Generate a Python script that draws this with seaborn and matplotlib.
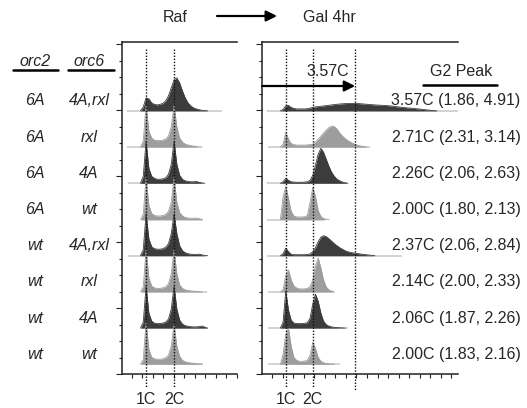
import numpy as np
import matplotlib
matplotlib.use('Agg')
import matplotlib.pyplot as plt
import seaborn as sns
from matplotlib.ticker import MultipleLocator
from matplotlib.lines import Line2D
from matplotlib.patches import FancyArrowPatch

sns.set_theme(style='ticks')
plt.rcParams['font.family'] = ['Liberation Sans', 'DejaVu Sans']

# strains and G2 peak summary
orc2 = ['6A', '6A', '6A', '6A', 'wt', 'wt', 'wt', 'wt']
orc6 = ['4A,rxl', 'rxl', '4A', 'wt', '4A,rxl', 'rxl', '4A', 'wt']
g2_peak = ['3.57C (1.86, 4.91)', '2.71C (2.31, 3.14)', '2.26C (2.06, 2.63)',
           '2.00C (1.80, 2.13)', '2.37C (2.06, 2.84)', '2.14C (2.00, 2.33)',
           '2.06C (1.87, 2.26)', '2.00C (1.83, 2.16)']
shade = ['dark', 'light', 'dark', 'light', 'dark', 'light', 'dark', 'light']

# DNA content bins (C), 0.1C wide
raf_bins = np.round(np.arange(0.8, 3.25, 0.1), 1)
gal_bins = np.round(np.arange(0.8, 6.65, 0.1), 1)

# Raf (before release) histograms, counts from 0.8C upward
raf_counts = [
    [0, 4, 13, 12, 8, 6.5, 6, 6.5, 7.5, 10, 15, 23, 31, 33, 28, 20, 13, 8, 5, 3, 2, 1.2, 0.6, 0.3, 0],
    [0, 6, 42, 16, 9, 7, 6.5, 6.5, 7, 8, 11, 20, 42, 20, 9, 5, 3, 2, 1.5, 1, 0.6, 0.3, 0],
    [0, 7, 42, 15, 7, 5, 4, 4, 4.5, 5.5, 9, 19, 42, 19, 8, 4, 2.5, 1.8, 1.5, 1.5, 1.8, 1, 0.3, 0],
    [0, 5, 42, 14, 6, 4, 3.5, 3.5, 4, 5, 8, 17, 42, 17, 7, 3.5, 2, 1.5, 1.2, 1.2, 1.5, 0.8, 0],
    [0, 6, 42, 17, 9, 7, 6.5, 6.5, 7, 8.5, 12, 22, 42, 22, 10, 5, 3, 2, 1.5, 1.3, 1.3, 1.5, 0.8, 0.3, 0],
    [0, 5, 42, 14, 6, 4, 3.5, 3.5, 4, 5, 8, 18, 42, 18, 7, 3.5, 2, 1.5, 1, 0.8, 0.5, 0.3, 0],
    [0, 6, 42, 15, 7, 5, 4.5, 4.5, 5, 6, 9, 19, 42, 19, 8, 4, 2.5, 1.8, 1.4, 1.2, 1.2, 1.5, 2, 1, 0],
    [0, 5, 42, 15, 7, 5.5, 5, 5, 5.5, 6.5, 9, 18, 40, 18, 8, 4, 2.5, 1.8, 1.3, 1, 0.6, 0.3, 0],
]
raf_base_start = [0.32, 0.32, 0.36, 0.86, 0.36, 0.86, 0.86, 0.86]
raf_base_end = [3.71, 2.82, 3.04, 3.04, 3.11, 3.18, 3.18, 3.04]

# Gal 4hr histograms, counts from 0.8C upward
gal_counts = [
    [0, 1.5, 5, 5.5, 3.5, 2.5, 2, 2, 2, 2, 2.2, 2.8, 3.6, 4, 4.3, 4.6, 5, 5.3, 5.6, 6,
     6.3, 6.6, 6.9, 7.1, 7.3, 7.4, 7.5, 7.5, 7.4, 7.3, 7.1, 6.9, 6.6, 6.4, 6.2, 6, 5.8,
     5.7, 5.5, 5.4, 5.2, 4.9, 4.6, 4.2, 3.9, 3.6, 3.3, 3.0, 2.8, 2.6, 2.3, 2.0, 1.7, 1.4,
     1.1, 0.8, 0.5, 0.3, 0],
    [0, 3, 14.5, 8, 3.5, 2.5, 2, 2, 2, 2, 2.2, 2.5, 3, 5, 8, 11, 14, 17, 19.5, 21,
     20.5, 18, 14, 11, 8.5, 6.5, 5, 3.5, 2.5, 1.5, 1, 0.5, 0],
    [0, 1.5, 5, 3, 1.5, 1.2, 1, 1, 1, 1.2, 1.5, 3, 8, 18, 29, 35, 31, 24, 17, 11, 7, 4,
     2.5, 1.2, 0.5, 0],
    [0, 22, 33, 21, 8, 3.5, 2.5, 2.5, 2.5, 2.8, 4, 17, 32, 23, 9, 3, 1, 0.3, 0],
    [0, 2, 7.5, 4, 1.5, 1, 1, 1, 1, 1, 1.2, 1.8, 4, 8, 14, 18.5, 20, 19, 17, 14.5, 12,
     10, 8, 6.5, 5, 4, 3.3, 2.8, 2.4, 2, 1.6, 1.2, 0.9, 0.6, 0.3, 0],
    [0, 2, 16, 22, 12, 6, 4, 3, 3, 3, 3.5, 5, 12, 26, 34, 24, 12, 5, 2, 0.8, 0],
    [0, 6, 37, 18, 8, 5, 4.5, 4.5, 4.5, 4.8, 5.5, 10, 24, 34, 27, 15, 7, 3.5, 2, 1.2,
     0.8, 0.5, 0.3, 0.2, 0],
    [0, 10, 30, 36, 18, 7, 4, 3, 3, 3.2, 4, 9, 22, 16, 7, 3, 1.5, 0.8, 0.5, 0.3, 0],
]
gal_base_start = [0.31, 0.34, 0.31, 0.31, 0.31, 0.34, 0.34, 0.34]
gal_base_end = [7.38, 4.12, 3.27, 2.46, 5.31, 2.75, 3.31, 3.0]

DARK, LIGHT = '#3c3c3c', '#9d9d9d'
ROW_GAP = 36.2
FS = 11.5
W, H = 527, 408
ROW0_PX = 364.3  # pixel row of the last baseline


def fx(px):
    return px / W


def fy(py):
    return 1 - py / H


fig = plt.figure(figsize=(W / 100, H / 100), dpi=100)
ax_raf = fig.add_axes([fx(122), fy(374.3), fx(237) - fx(122), fy(42) - fy(374.3)])
ax_gal = fig.add_axes([fx(262), fy(374.3), fx(458) - fx(262), fy(42) - fy(374.3)])


def draw_panel(ax, bins, counts, b_start, b_end):
    for i, c in enumerate(counts):
        y0 = (7 - i) * ROW_GAP
        col = DARK if shade[i] == 'dark' else LIGHT
        x = bins[:len(c)]
        h = np.array(c, dtype=float)
        ax.plot([b_start[i], b_end[i]], [y0, y0], color='#c8c8c8', lw=1.1,
                zorder=3 * i + 1, solid_capstyle='butt')
        ax.fill_between(x, y0, y0 + h, color=col, lw=0, zorder=3 * i + 2)
        sns.lineplot(x=x, y=y0 + h, color=col, lw=0.6, ax=ax, zorder=3 * i + 3)


draw_panel(ax_raf, raf_bins, raf_counts, raf_base_start, raf_base_end)
draw_panel(ax_gal, gal_bins, gal_counts, gal_base_start, gal_base_end)

ax_raf.set_xlim(0.14, 4.25)
ax_gal.set_xlim(0.12, 7.38)
ax_raf.xaxis.set_major_locator(MultipleLocator(0.375, offset=0.49))
ax_gal.xaxis.set_major_locator(MultipleLocator(0.39, offset=0.11))

for ax, marks, bot in ((ax_raf, [1, 2], [-23.7, -23.7]),
                       (ax_gal, [1, 2, 3.57], [-23.7, -23.7, -26])):
    ax.set_ylim(-10, 322.3)
    ax.yaxis.set_major_locator(MultipleLocator(66, offset=-10))
    ax.yaxis.set_minor_locator(MultipleLocator(16.5, offset=-10))
    ax.tick_params(axis='y', which='major', direction='out', length=4, width=0.8,
                   left=True, labelleft=False, color='#222222')
    ax.tick_params(axis='y', which='minor', direction='out', length=2.5, width=0.8,
                   left=True, color='#222222')
    ax.tick_params(axis='x', which='major', direction='out', length=3, width=0.8,
                   bottom=True, labelbottom=False, color='#222222')
    ax.set_xlabel('')
    ax.set_ylabel('')
    ax.patch.set_alpha(0)
    for s in ('left', 'bottom', 'top'):
        ax.spines[s].set_color('#222222')
        ax.spines[s].set_linewidth(1.1)
    ax.spines['right'].set_visible(False)
    for m, yb in zip(marks, bot):
        ax.plot([m, m], [315.8, yb], ls=(0, (1, 1.2)), color='#111111', lw=1.0,
                clip_on=False, zorder=40)
    for m, lab in zip([1, 2], ['1C', '2C']):
        ax.text(m, -34.7, lab, ha='center', va='center', fontsize=FS, clip_on=False)

# 3.57C arrow in the Gal panel
ax_gal.annotate('', xy=(3.57, ROW0_PX - 86), xytext=(0.12, ROW0_PX - 86),
                arrowprops=dict(arrowstyle='-|>', lw=1.6, color='black',
                                mutation_scale=16, shrinkA=0, shrinkB=0),
                annotation_clip=False, zorder=45)
ax_gal.text(2.57, ROW0_PX - 71.7, '3.57C', ha='center', va='center', fontsize=FS)

# header: Raf -> Gal 4hr
fig.text(fx(175), fy(17), 'Raf', ha='center', va='center', fontsize=FS)
fig.text(fx(329), fy(17), 'Gal 4hr', ha='center', va='center', fontsize=FS)
fig.add_artist(FancyArrowPatch(
    (fx(217), fy(16)), (fx(277), fy(16)), transform=fig.transFigure,
    arrowstyle='-|>', mutation_scale=16, lw=1.6, color='black',
    shrinkA=0, shrinkB=0))

# strain columns
fig.text(fx(35), fy(62), 'orc2', ha='center', va='center', fontsize=FS, style='italic')
fig.text(fx(89), fy(62), 'orc6', ha='center', va='center', fontsize=FS, style='italic')
fig.add_artist(Line2D([fx(12.7), fx(58.3)], [fy(69.5), fy(69.5)], color='black', lw=1.8,
                      transform=fig.transFigure))
fig.add_artist(Line2D([fx(68.3), fx(114)], [fy(69.5), fy(69.5)], color='black', lw=1.8,
                      transform=fig.transFigure))

fig.text(fx(461), fy(71.7), 'G2 Peak', ha='center', va='center', fontsize=FS)
fig.add_artist(Line2D([fx(423), fx(497)], [fy(85), fy(85)], color='black', lw=1.8,
                      transform=fig.transFigure))

for i in range(8):
    ypx = ROW0_PX - (7 - i) * ROW_GAP - 10
    fig.text(fx(35), fy(ypx), orc2[i], ha='center', va='center', fontsize=FS, style='italic')
    fig.text(fx(89), fy(ypx), orc6[i], ha='center', va='center', fontsize=FS, style='italic')
    fig.text(fx(520.5), fy(ypx), g2_peak[i], ha='right', va='center', fontsize=FS)

fig.savefig('out.png', dpi=100)
